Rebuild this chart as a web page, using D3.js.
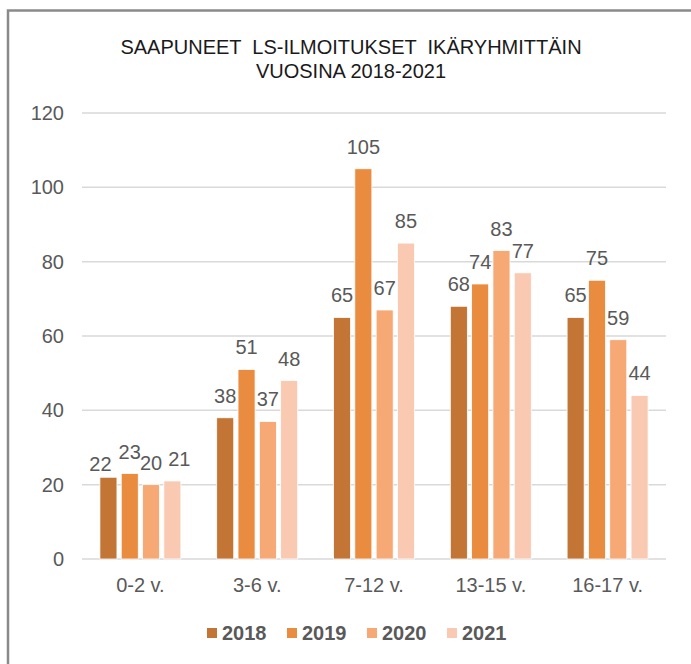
<!DOCTYPE html>
<html>
<head>
<meta charset="utf-8">
<script src="https://d3js.org/d3.v7.min.js"></script>
<style>
  body { margin: 0; background: #fff; }
  text { font-family: "Liberation Sans", Arial, sans-serif; }
</style>
</head>
<body>
<div id="chartId"></div>
<script>
// data
const categories = ['0-2 v.', '3-6 v.', '7-12 v.', '13-15 v.', '16-17 v.'];
const years = ['2018', '2019', '2020', '2021'];
const values2018 = [22, 38, 65, 68, 65];
const values2019 = [23, 51, 105, 74, 75];
const values2020 = [20, 37, 67, 83, 59];
const values2021 = [21, 48, 85, 77, 44];
const yTicks = [0, 20, 40, 60, 80, 100, 120];
const colors = ['#c27535', '#e98c3f', '#f6a875', '#f9cab1'];
const titleLines = ['SAAPUNEET  LS-ILMOITUKSET  IKÄRYHMITTÄIN', 'VUOSINA 2018-2021'];

const series = [values2018, values2019, values2020, values2021];

const W = 691, H = 664;
const svg = d3.select('#chartId').append('svg')
  .attr('width', W).attr('height', H);

// frame around the chart (right and bottom edges fall outside the picture)
svg.append('rect')
  .attr('x', 8).attr('y', 10.5)
  .attr('width', 800).attr('height', 800)
  .attr('fill', 'none').attr('stroke', '#8a8a8a').attr('stroke-width', 2.5);

const x0 = d3.scaleBand().domain(categories).range([82, 666]);
const bw = x0.bandwidth();
const x1 = d3.scaleBand().domain(years)
  .range([bw * 0.135, bw * 0.865]).paddingInner(0.2).paddingOuter(0.1);
const y = d3.scaleLinear().domain([0, 120]).range([559, 113]);

// gridlines
svg.append('g').selectAll('line')
  .data(yTicks).join('line')
  .attr('x1', 82).attr('x2', 666)
  .attr('y1', d => y(d)).attr('y2', d => y(d))
  .attr('stroke', '#d9d9d9').attr('stroke-width', 1.5);

// y axis labels
svg.append('g').selectAll('text')
  .data(yTicks).join('text')
  .attr('x', 64).attr('y', d => y(d))
  .attr('dy', '0.35em')
  .attr('text-anchor', 'end')
  .attr('fill', '#595959').style('font-size', '20px')
  .text(d => d);

// x axis labels
svg.append('g').selectAll('text')
  .data(categories).join('text')
  .attr('x', d => x0(d) + bw / 2).attr('y', 592)
  .attr('text-anchor', 'middle')
  .attr('fill', '#595959').style('font-size', '20px')
  .text(d => d);

// small nudges where labels crowd in the first group (as in the original)
const labelNudge = {'0-2 v.|2018': [-8, 9], '0-2 v.|2021': [7, 0]};

const groups = svg.append('g').selectAll('g')
  .data(categories).join('g')
  .attr('transform', d => `translate(${x0(d)},0)`);

groups.selectAll('rect')
  .data((c, ci) => years.map((yr, si) => ({cat: c, year: yr, si, v: series[si][ci]})))
  .join('rect')
  .attr('x', d => x1(d.year))
  .attr('width', x1.bandwidth())
  .attr('y', d => y(d.v))
  .attr('height', d => y(0) - y(d.v))
  .attr('fill', d => colors[d.si])
  .attr('stroke', '#fff').attr('stroke-width', 0.8);

groups.selectAll('text')
  .data((c, ci) => years.map((yr, si) => ({cat: c, year: yr, si, v: series[si][ci]})))
  .join('text')
  .attr('x', d => x1(d.year) + x1.bandwidth() / 2 + (labelNudge[d.cat + '|' + d.year] || [0, 0])[0])
  .attr('y', d => y(d.v) - 15 + (labelNudge[d.cat + '|' + d.year] || [0, 0])[1])
  .attr('text-anchor', 'middle')
  .attr('fill', '#595959').style('font-size', '20px')
  .text(d => d.v);

// title
svg.append('g').selectAll('text')
  .data(titleLines).join('text')
  .attr('x', 351).attr('y', (d, i) => 54 + i * 24)
  .attr('text-anchor', 'middle')
  .attr('fill', '#1a1a1a').style('font-size', '20px')
  .style('white-space', 'pre')
  .text(d => d);

// legend
const legendX = [207, 287, 367, 447];
const legend = svg.append('g').selectAll('g')
  .data(years).join('g')
  .attr('transform', (d, i) => `translate(${legendX[i]},633)`);
legend.append('rect')
  .attr('x', 0).attr('y', -5).attr('width', 10).attr('height', 10)
  .attr('fill', (d, i) => colors[i]);
legend.append('text')
  .attr('x', 15).attr('dy', '0.36em')
  .attr('fill', '#595959').style('font-size', '20px').style('font-weight', 'bold')
  .text(d => d);
</script>
</body>
</html>
